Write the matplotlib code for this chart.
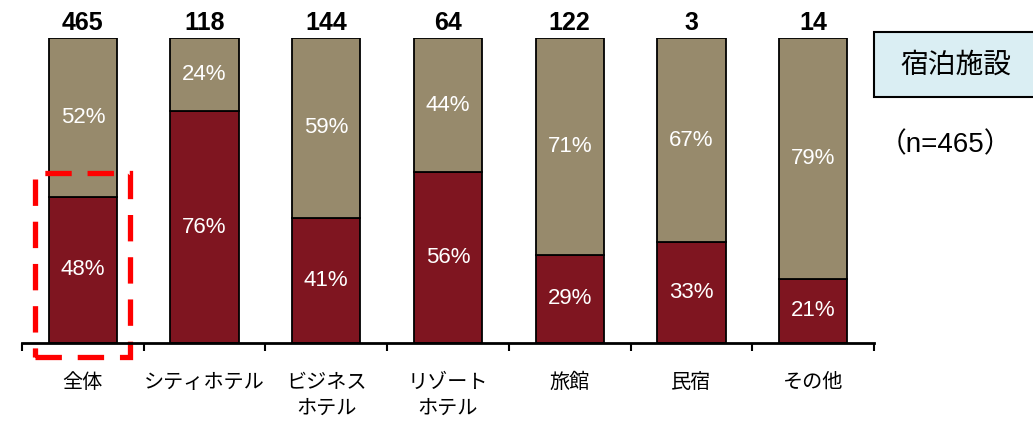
import matplotlib.pyplot as plt
from matplotlib.patches import Rectangle

plt.rcParams['font.family'] = ['Noto Sans CJK JP', 'DejaVu Sans']

categories = ['全体', 'シティホテル', 'ビジネス\nホテル', 'リゾート\nホテル', '旅館', '民宿', 'その他']
counts = [465, 118, 144, 64, 122, 3, 14]
yes_pct = [48, 76, 41, 56, 29, 33, 21]
no_pct = [52, 24, 59, 44, 71, 67, 79]

red = '#7f1520'
tan = '#978a6c'
latin = ['Liberation Sans', 'Noto Sans CJK JP']

fig = plt.figure(figsize=(10.33, 4.22), dpi=100)
ax = fig.add_axes([22 / 1033, 79 / 422, 852 / 1033, 305 / 422])

x = list(range(len(categories)))
w = 0.56
ax.bar(x, yes_pct, w, color=red, edgecolor='black', linewidth=1.3)
ax.bar(x, no_pct, w, bottom=yes_pct, color=tan, edgecolor='black', linewidth=1.3)

for i in x:
    ax.text(i, yes_pct[i] / 2, f'{yes_pct[i]}%', ha='center', va='center',
            color='white', fontsize=16, family=latin)
    ax.text(i, yes_pct[i] + no_pct[i] / 2, f'{no_pct[i]}%', ha='center', va='center',
            color='white', fontsize=16, family=latin)
    ax.text(i, 101, str(counts[i]), ha='center', va='bottom',
            fontsize=18, fontweight='bold', family=latin)

ax.set_xlim(-0.5, len(categories) - 0.5)
ax.set_ylim(0, 100)
ax.set_yticks([])
for s in ['left', 'right', 'top']:
    ax.spines[s].set_visible(False)
ax.spines['bottom'].set_linewidth(2)

# ticks sit at the category boundaries, labels at the centres
ax.set_xticks([i - 0.5 for i in range(len(categories) + 1)])
ax.set_xticklabels([])
ax.tick_params(axis='x', direction='out', length=6, width=1.5)
ax.set_xticks(x, minor=True)
ax.set_xticklabels(categories, minor=True, fontsize=14.5, linespacing=1.3, va='top')
ax.tick_params(axis='x', which='minor', length=0, pad=21)

# dashed highlight round the overall bar
ax.add_patch(Rectangle((-0.39, -4.6), 0.78, 60.3, fill=False, edgecolor='#ff0000',
                       linewidth=3.8, linestyle=(0, (5, 3)), clip_on=False))

fig.patches.append(Rectangle((874 / 1033, 1 - 97 / 422), 180 / 1033, 65 / 422,
                             transform=fig.transFigure, facecolor='#daeef3',
                             edgecolor='black', linewidth=1.5))
fig.text(956 / 1033, 1 - 65 / 422, '宿泊施設', ha='center', va='center', fontsize=20)
fig.text(945 / 1033, 1 - 145 / 422, '（n=465）', ha='center', va='center',
         fontsize=20, family=latin)

fig.savefig('out.png', dpi=100)
